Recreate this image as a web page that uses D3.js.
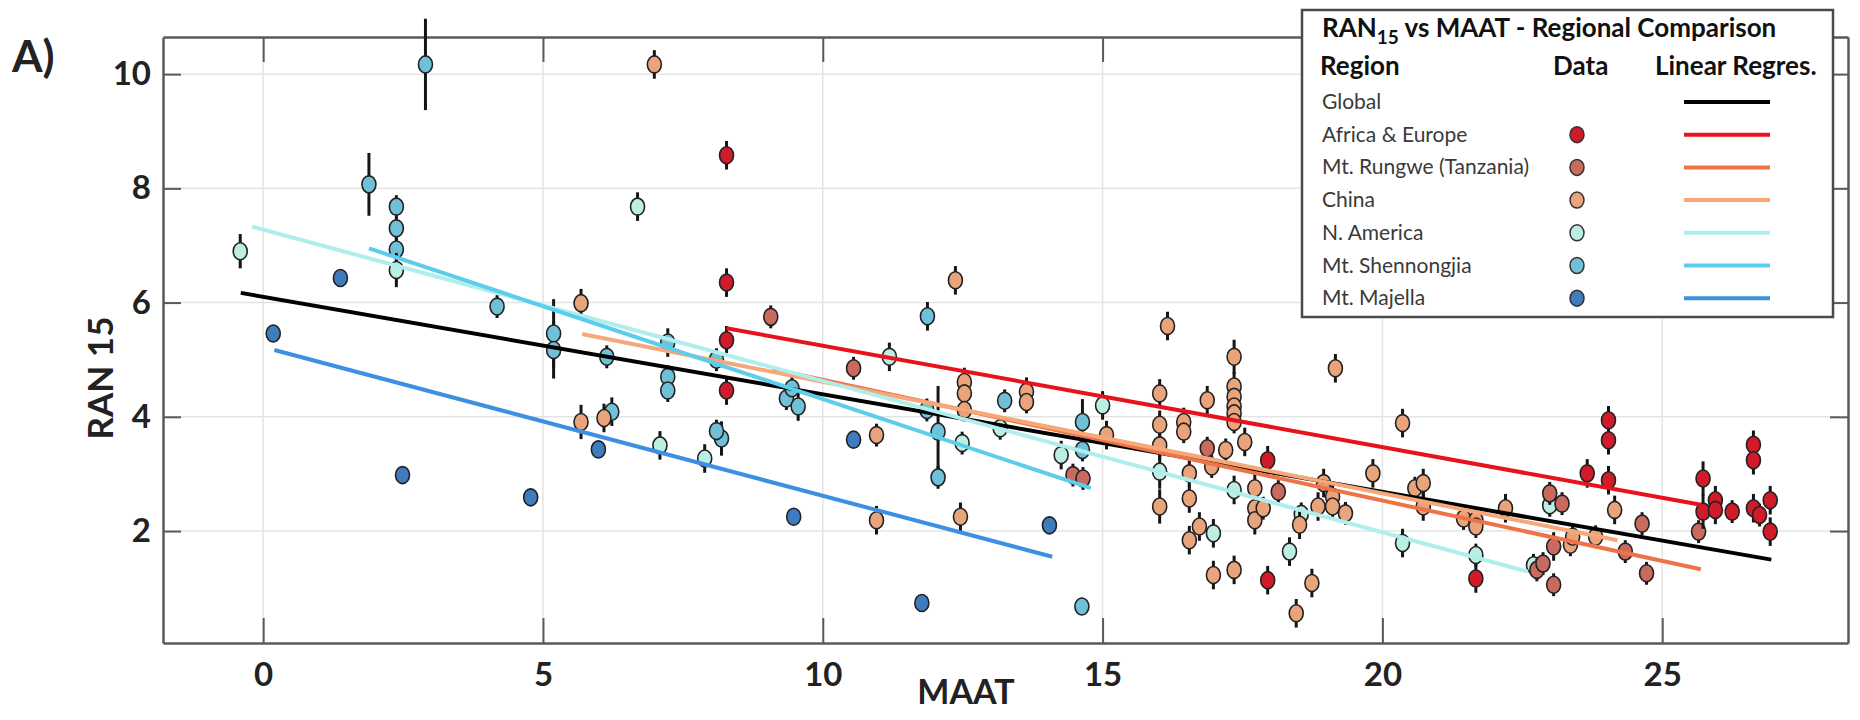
<!DOCTYPE html>
<html>
<head>
<meta charset="utf-8">
<script src="https://cdn.jsdelivr.net/npm/d3@7"></script>
<style>
  body { margin: 0; background: #fff; }
  svg { display: block; }
</style>
</head>
<body>
<div id="chart"></div>
<script>
// each point: [MAAT, RAN15, half error bar]
const africaEurope = [
  [8.28, 8.58, 0.25], [8.28, 6.35, 0.25], [8.28, 5.34, 0.25], [8.28, 4.46, 0.25],
  [17.95, 3.24, 0.25], [17.95, 1.14, 0.25], [21.67, 1.17, 0.25], [23.66, 3.01, 0.25],
  [24.04, 3.94, 0.25], [24.04, 3.59, 0.25], [24.04, 2.89, 0.25], [25.73, 2.92, 0.3],
  [25.73, 2.34, 0.3], [25.95, 2.54, 0.25], [25.95, 2.37, 0.25], [26.25, 2.34, 0.2],
  [26.63, 3.51, 0.25], [26.63, 3.24, 0.25], [26.63, 2.40, 0.25], [26.74, 2.28, 0.2],
  [26.93, 2.54, 0.25], [26.93, 1.99, 0.25]
];
const rungwe = [
  [9.07, 5.75, 0.2], [10.55, 4.85, 0.2], [14.47, 2.98, 0.2], [14.65, 2.92, 0.2],
  [16.87, 3.45, 0.2], [18.14, 2.69, 0.2], [22.76, 1.32, 0.2], [22.87, 1.43, 0.2],
  [22.99, 2.66, 0.2], [23.06, 1.73, 0.25], [23.06, 1.06, 0.2], [23.21, 2.48, 0.2],
  [24.34, 1.64, 0.2], [24.64, 2.13, 0.2], [24.72, 1.26, 0.2], [25.65, 1.99, 0.2]
];
const china = [
  [5.68, 5.99, 0.25], [5.68, 3.91, 0.3], [6.09, 3.98, 0.25], [6.99, 10.17, 0.25],
  [10.96, 3.68, 0.2], [10.96, 2.19, 0.25], [12.37, 6.39, 0.25], [12.46, 2.25, 0.25],
  [12.53, 4.61, 0.25], [12.53, 4.41, 0.2], [12.53, 4.12, 0.2], [13.64, 4.44, 0.25],
  [13.64, 4.26, 0.2], [15.07, 3.68, 0.25], [16.02, 4.41, 0.25], [16.02, 3.86, 0.25],
  [16.02, 3.5, 0.25], [16.02, 2.43, 0.3], [16.16, 5.59, 0.25], [16.45, 3.91, 0.25],
  [16.45, 3.74, 0.2], [16.55, 3.01, 0.25], [16.55, 2.57, 0.25], [16.55, 1.84, 0.25],
  [16.73, 2.08, 0.25], [16.87, 4.29, 0.25], [16.95, 3.13, 0.2], [16.98, 1.23, 0.25],
  [17.35, 5.05, 0.3], [17.35, 4.53, 0.25], [17.35, 4.35, 0.2], [17.35, 4.18, 0.2],
  [17.35, 4.06, 0.2], [17.35, 3.91, 0.2], [17.2, 3.42, 0.2], [17.54, 3.56, 0.25],
  [17.35, 1.32, 0.25], [17.72, 2.75, 0.25], [17.72, 2.40, 0.2], [17.72, 2.19, 0.25],
  [17.87, 2.40, 0.2], [18.46, 0.56, 0.25], [18.52, 2.11, 0.25], [18.74, 1.09, 0.25],
  [18.85, 2.43, 0.25], [18.95, 2.84, 0.25], [19.11, 2.60, 0.2], [19.11, 2.43, 0.2],
  [19.16, 4.85, 0.25], [19.34, 2.31, 0.2], [19.83, 3.01, 0.25], [20.36, 3.89, 0.25],
  [20.58, 2.75, 0.2], [20.73, 2.84, 0.25], [20.73, 2.43, 0.25], [21.45, 2.22, 0.2],
  [21.67, 2.19, 0.2], [21.67, 2.08, 0.2], [22.2, 2.40, 0.25], [23.36, 1.76, 0.2],
  [23.4, 1.9, 0.2], [23.81, 1.90, 0.2], [24.15, 2.37, 0.25]
];
const nAmerica = [
  [-0.41, 6.9, 0.3], [2.38, 6.57, 0.3], [6.69, 7.68, 0.25], [7.09, 3.5, 0.25],
  [7.89, 3.27, 0.25], [11.19, 5.05, 0.25], [12.49, 3.54, 0.2], [13.17, 3.80, 0.2],
  [14.26, 3.33, 0.25], [15.0, 4.2, 0.25], [16.02, 3.04, 0.3], [16.98, 1.96, 0.25],
  [17.35, 2.72, 0.25], [18.34, 1.64, 0.25], [18.55, 2.3, 0.2], [20.36, 1.79, 0.25],
  [21.67, 1.58, 0.2], [22.99, 2.45, 0.2], [22.7, 1.4, 0.2]
];
const shennongjia = [
  [1.89, 8.07, 0.55], [2.38, 7.68, 0.2], [2.38, 7.30, 0.2], [2.38, 6.93, 0.2],
  [2.90, 10.17, 0.8], [4.18, 5.93, 0.2], [5.19, 5.46, 0.6], [5.19, 5.17, 0.5],
  [6.23, 4.09, 0.25], [6.14, 5.05, 0.2], [7.23, 5.3, 0.25], [7.23, 4.70, 0.2],
  [7.23, 4.46, 0.2], [8.19, 3.62, 0.3], [8.1, 3.75, 0.2], [8.1, 5.0, 0.2],
  [9.35, 4.32, 0.2], [9.56, 4.18, 0.25], [9.45, 4.5, 0.2], [11.87, 5.76, 0.25],
  [11.86, 4.12, 0.2], [12.06, 3.74, 0.8], [12.06, 2.94, 0.2], [13.25, 4.28, 0.2],
  [14.64, 3.91, 0.4], [14.64, 3.42, 0.2], [14.63, 0.68, 0.15]
];
const majella = [
  [0.18, 5.46, 0.15], [1.38, 6.43, 0.15], [2.49, 2.98, 0.15], [4.78, 2.59, 0.15],
  [5.99, 3.43, 0.15], [9.48, 2.25, 0.15], [10.55, 3.6, 0.15], [11.77, 0.74, 0.15],
  [14.05, 2.1, 0.15]
];

const regions = ["Global", "Africa & Europe", "Mt. Rungwe (Tanzania)", "China",
  "N. America", "Mt. Shennongjia", "Mt. Majella"];
const regionData = [null, africaEurope, rungwe, china, nAmerica, shennongjia, majella];
const markerColors = [null, "#d11a2a", "#c96a5e", "#eaa47c", "#bdeee2", "#70c0d8", "#3f7cbd"];
const lineColors = ["#000000", "#e8121f", "#ee7448", "#f6a878", "#b0eeee", "#5ccdea", "#3d8fe2"];
// linear regression segments [x start, y start, x end, y end]
const fits = [
  [-0.4, 6.17, 26.95, 1.50],
  [8.28, 5.55, 25.69, 2.46],
  [9.1, 4.84, 25.69, 1.33],
  [5.7, 5.45, 24.2, 1.84],
  [-0.2, 7.33, 22.6, 1.29],
  [1.89, 6.95, 14.79, 2.75],
  [0.2, 5.17, 14.1, 1.55]
];
// draw order of the scattered groups
const drawOrder = [6, 5, 4, 3, 2, 1];

const xTicks = [0, 5, 10, 15, 20, 25];
const yTicks = [2, 4, 6, 8, 10];

const width = 1860, height = 720;
const plot = {left: 163, right: 1848, top: 37, bottom: 643};

const svg = d3.select("#chart").append("svg")
  .attr("width", width)
  .attr("height", height)
  .style("font-family", "Lato, 'Open Sans', sans-serif");

const x = d3.scaleLinear().domain([-1.79, 28.32]).range([plot.left, plot.right]);
const y = d3.scaleLinear().domain([0.04, 10.65]).range([plot.bottom, plot.top]);

// grid
svg.append("g").selectAll("line").data(xTicks).join("line")
  .attr("x1", d => x(d)).attr("x2", d => x(d))
  .attr("y1", plot.top).attr("y2", plot.bottom)
  .attr("stroke", "#e4e4e4").attr("stroke-width", 1.5);
svg.append("g").selectAll("line").data(yTicks).join("line")
  .attr("y1", d => y(d)).attr("y2", d => y(d))
  .attr("x1", plot.left).attr("x2", plot.right)
  .attr("stroke", "#e4e4e4").attr("stroke-width", 1.5);

// axes box with inward ticks
const axisColor = "#5a5a5a";
const bottomAxis = svg.append("g")
  .attr("transform", `translate(0,${plot.bottom})`)
  .call(d3.axisBottom(x).tickValues(xTicks).tickSizeInner(-25).tickSizeOuter(0).tickPadding(40));
const topAxis = svg.append("g")
  .attr("transform", `translate(0,${plot.top})`)
  .call(d3.axisTop(x).tickValues(xTicks).tickSizeInner(-25).tickSizeOuter(0).tickFormat(""));
const leftAxis = svg.append("g")
  .attr("transform", `translate(${plot.left},0)`)
  .call(d3.axisLeft(y).tickValues(yTicks).tickSizeInner(-18).tickSizeOuter(0).tickPadding(12));
const rightAxis = svg.append("g")
  .attr("transform", `translate(${plot.right},0)`)
  .call(d3.axisRight(y).tickValues(yTicks).tickSizeInner(-18).tickSizeOuter(0).tickFormat(""));

[bottomAxis, topAxis, leftAxis, rightAxis].forEach(g => {
  g.select(".domain").attr("stroke", axisColor).attr("stroke-width", 2.5);
  g.selectAll(".tick line").attr("stroke", axisColor).attr("stroke-width", 2);
  g.selectAll(".tick text")
    .attr("fill", "#222")
    .style("font-family", "Lato, sans-serif")
    .style("font-weight", 700)
    .style("font-size", "33px");
});
bottomAxis.selectAll(".tick text").attr("dy", "0.1em");

// points: error bars then markers
const groups = svg.append("g");
drawOrder.forEach(i => {
  const g = groups.append("g");
  g.selectAll("line").data(regionData[i]).join("line")
    .attr("x1", d => x(d[0])).attr("x2", d => x(d[0]))
    .attr("y1", d => y(d[1] + d[2])).attr("y2", d => y(d[1] - d[2]))
    .attr("stroke", "#151515").attr("stroke-width", 3);
  g.selectAll("ellipse").data(regionData[i]).join("ellipse")
    .attr("cx", d => x(d[0])).attr("cy", d => y(d[1]))
    .attr("rx", 7).attr("ry", 8.5)
    .attr("fill", markerColors[i])
    .attr("stroke", "#222").attr("stroke-width", 1.6);
});

// regression lines
svg.append("g").selectAll("line").data(fits).join("line")
  .attr("x1", d => x(d[0])).attr("y1", d => y(d[1]))
  .attr("x2", d => x(d[2])).attr("y2", d => y(d[3]))
  .attr("stroke", (d, i) => lineColors[i])
  .attr("stroke-width", 4);

// labels
svg.append("text")
  .attr("x", 12).attr("y", 72)
  .attr("font-size", 44).attr("font-weight", 700).attr("fill", "#222")
  .text("A)");

svg.append("text")
  .attr("x", 966).attr("y", 704)
  .attr("text-anchor", "middle")
  .attr("font-size", 34).attr("font-weight", 700).attr("fill", "#222")
  .text("MAAT");

svg.append("text")
  .attr("transform", "translate(113,378) rotate(-90)")
  .attr("text-anchor", "middle")
  .attr("font-size", 35).attr("font-weight", 700).attr("fill", "#222")
  .text("RAN 15");

// legend
const lg = svg.append("g");
lg.append("rect")
  .attr("x", 1302).attr("y", 10).attr("width", 531).attr("height", 307)
  .attr("fill", "#fff").attr("stroke", "#4a4a4a").attr("stroke-width", 2.5);

const title = lg.append("text")
  .attr("x", 1322).attr("y", 37)
  .attr("font-size", 26).attr("font-weight", 700).attr("fill", "#111");
title.append("tspan").text("RAN");
title.append("tspan").attr("font-size", 19).attr("dy", 7).text("15");
title.append("tspan").attr("dy", -7).text(" vs MAAT - Regional Comparison");

const headers = [["Region", 1320], ["Data", 1553], ["Linear Regres.", 1655]];
lg.selectAll("text.hdr").data(headers).join("text")
  .attr("class", "hdr")
  .attr("x", d => d[1]).attr("y", 75)
  .attr("font-size", 26).attr("font-weight", 700).attr("fill", "#111")
  .text(d => d[0]);

const rowY = i => 102 + i * 32.7;
lg.selectAll("text.row").data(regions).join("text")
  .attr("class", "row")
  .attr("x", 1322).attr("y", (d, i) => rowY(i) + 7)
  .attr("font-size", 21).attr("fill", "#3a3a3a")
  .text(d => d);

lg.selectAll("ellipse").data(regions.slice(1)).join("ellipse")
  .attr("cx", 1577).attr("cy", (d, i) => rowY(i + 1))
  .attr("rx", 7).attr("ry", 8)
  .attr("fill", (d, i) => markerColors[i + 1])
  .attr("stroke", "#333").attr("stroke-width", 1.5);

lg.selectAll("line").data(regions).join("line")
  .attr("x1", 1684).attr("x2", 1770)
  .attr("y1", (d, i) => rowY(i)).attr("y2", (d, i) => rowY(i))
  .attr("stroke", (d, i) => lineColors[i])
  .attr("stroke-width", 4);
</script>
</body>
</html>
